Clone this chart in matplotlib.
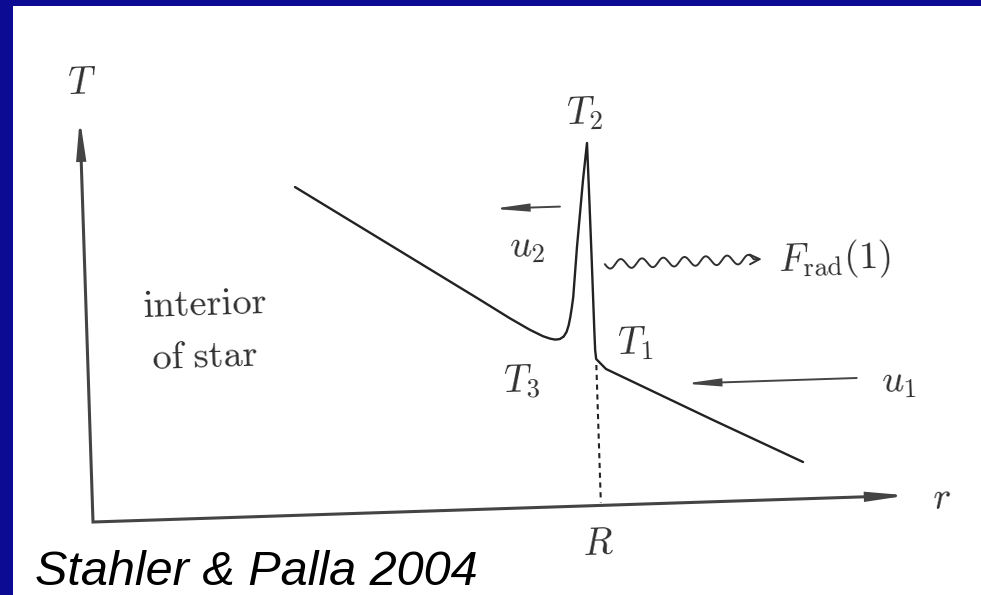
import numpy as np
import matplotlib.pyplot as plt
from matplotlib.patches import FancyArrowPatch, Rectangle
from matplotlib.path import Path
from matplotlib.transforms import Affine2D

plt.rcParams["mathtext.fontset"] = "cm"

# temperature profile through the accretion shock (diagram units: r to the right, T up)
r_profile = [212.8, 315.7, 394.0, 423.3, 443.0, 455.8, 463.0, 468.0, 472.5, 476.5,
             479.5, 481.8, 483.8, 485.6, 487.3, 492.7, 500.9, 506.1, 506.6, 507.0,
             507.3, 507.5, 508.2, 517.7, 623.0, 711.6]
T_profile = [328.2, 260.8, 209.5, 190.0, 177.8, 171.0, 168.3, 167.2, 167.6, 170.0,
             174.5, 181.0, 189.5, 199.0, 209.0, 259.1, 325.8, 362.7, 305.6, 245.6,
             175.6, 155.6, 146.5, 136.2, 81.7, 36.8]

R_shock = 508.2      # stellar radius / shock front
T1_shock = 146.5     # pre-shock temperature at the front
r_axis_len = 815.0
T_axis_len = 404.0

# flow arrows (r start, r end, T level)
u2_arrow = (477.0, 410.0, 300.0)
u1_arrow = (768.0, 596.0, 119.0)
frad_arrow = (520.0, 677.0, 241.0)

INK = "#222222"
GREY = "#303030"
FRAME = "#0b0b94"
TILT = 1.87


def draw_arrow(ax, p0, p1, transform, lw, color, hl, hw, style="-|>"):
    arr = FancyArrowPatch(p0, p1, arrowstyle=f"{style},head_length={hl},head_width={hw}",
                          mutation_scale=10, shrinkA=0, shrinkB=0, lw=lw, color=color,
                          transform=transform, joinstyle="miter")
    ax.add_patch(arr)


def label(ax, x, y, s, transform, size=27.5, ha="center"):
    ax.text(x, y, s, transform=transform, fontsize=size, color=GREY, ha=ha,
            va="center", rotation=TILT, rotation_mode="anchor")


def main() -> None:
    fig = plt.figure(figsize=(9.81, 5.95), dpi=100)
    ax = fig.add_axes([0, 0, 1, 1])
    ax.set_xlim(0, 981)
    ax.set_ylim(0, 595)
    ax.axis("off")

    # slide frame
    ax.add_patch(Rectangle((0, 0), 13, 595, color=FRAME, lw=0))
    ax.add_patch(Rectangle((0, 589), 981, 6, color=FRAME, lw=0))

    # diagram frame, slightly tilted
    tilt = Affine2D().rotate_deg(TILT).translate(93, 73) + ax.transData

    # axes
    ax.plot([0, 0, r_axis_len - 20], [T_axis_len - 20, 0, 0], color="#444444", lw=2.2,
            transform=tilt, solid_joinstyle="miter")
    draw_arrow(ax, (0, T_axis_len - 40), (0, T_axis_len), tilt, 2.0, "#444444", 2.2, 0.26)
    draw_arrow(ax, (r_axis_len - 40, 0), (r_axis_len, 0), tilt, 2.0, "#444444", 2.2, 0.26)

    # temperature profile
    ax.plot(r_profile, T_profile, color=INK, lw=1.7, transform=tilt,
            solid_joinstyle="round", solid_capstyle="round")

    # shock position
    ax.plot([R_shock, R_shock], [T1_shock - 6, 3], color=INK, lw=1.5,
            ls=(0, (2.5, 2.2)), transform=tilt)

    # velocity arrows
    draw_arrow(ax, (u2_arrow[0], u2_arrow[2]), (u2_arrow[1], u2_arrow[2]), tilt,
               1.4, "#444444", 2.0, 0.22)
    draw_arrow(ax, (u1_arrow[0], u1_arrow[2]), (u1_arrow[1], u1_arrow[2]), tilt,
               1.4, "#444444", 2.0, 0.22)

    # wavy radiation arrow
    r0, r1, Tw = frad_arrow
    n_waves, amp = 7, 4.6
    wr = np.linspace(r0, r1 - 8, 300)
    wT = Tw - amp * np.sin(2 * np.pi * n_waves * (wr - r0) / (r1 - 8 - r0))
    verts = np.column_stack([np.append(wr, r1), np.append(wT, Tw)])
    wave = FancyArrowPatch(path=Path(verts), arrowstyle="->,head_length=0.7,head_width=0.35",
                           mutation_scale=10, lw=1.4, color=GREY, transform=tilt)
    ax.add_patch(wave)

    # labels
    label(ax, 3.3, 439.0, r"$T$", tilt)
    label(ax, 849.0, -4.0, r"$r$", tilt)
    label(ax, 504.0, -39.0, r"$R$", tilt)
    label(ax, 505.0, 392.0, r"$T_2$", tilt)
    label(ax, 442.8, 260.0, r"$u_2$", tilt)
    label(ax, 693.0, 238.0, r"$F_{\rm rad}(1)$", tilt, ha="left")
    label(ax, 547.6, 161.0, r"$T_1$", tilt)
    label(ax, 793.0, 113.0, r"$u_1$", tilt, ha="left")
    label(ax, 433.3, 126.0, r"$T_3$", tilt)
    label(ax, 119.0, 213.0, r"$\mathrm{interior}$", tilt)
    label(ax, 117.3, 161.0, r"$\mathrm{of\ star}$", tilt)

    # reference caption
    ax.text(35, 10, "Stahler & Palla 2004", fontsize=35, family="Liberation Sans",
            style="italic", color="black", ha="left", va="baseline")

    fig.savefig("out.png", dpi=100)
    plt.close(fig)


if __name__ == "__main__":
    main()
